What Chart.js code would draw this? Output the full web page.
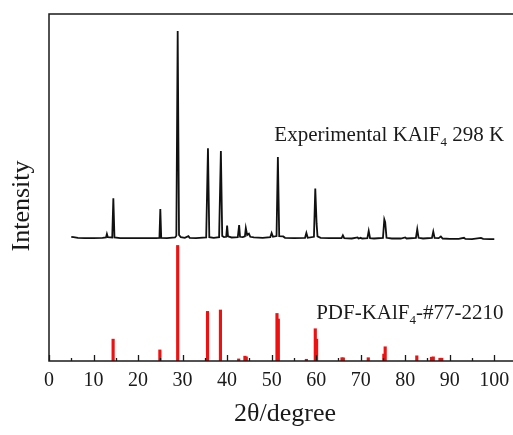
<!DOCTYPE html>
<html>
<head>
<meta charset="utf-8">
<script src="https://cdn.jsdelivr.net/npm/chart.js@4/dist/chart.umd.min.js"></script>
<style>
  html, body { margin: 0; padding: 0; background: #fff; overflow: hidden; }
  #wrap { width: 540px; height: 435px; }
</style>
</head>
<body>
<div id="wrap"><canvas id="xrd"></canvas></div>
<script>
// Experimental pattern (2theta, relative intensity above its baseline)
const expTheta = [5.0, 5.5, 6.5, 8.0, 10.0, 12.0, 12.8, 13.0, 13.2, 14.2, 14.45, 14.7, 16.0, 18.0, 20.0, 22.0, 24.0, 24.8, 25.0, 25.2,
  26.5, 28.3, 28.6, 28.9, 29.2, 29.6, 30.5, 31.3, 31.6, 33.0, 35.3, 35.7, 36.0, 37.0, 38.2, 38.6, 38.9, 39.3, 39.8, 40.0,
  40.2, 41.0, 42.4, 42.7, 42.9, 43.5, 44.0, 44.2, 44.5, 44.9, 45.2, 46.0, 48.0, 49.7, 50.0, 50.3, 51.1, 51.4, 51.7, 52.6,
  53.0, 55.0, 57.5, 57.8, 58.1, 59.5, 59.8, 60.1, 60.3, 61.0, 63.0, 65.7, 66.0, 66.3, 68.0, 69.3, 69.5, 70.0, 70.3, 71.5,
  71.8, 72.1, 73.0, 75.0, 75.3, 75.5, 75.8, 77.0, 79.0, 80.0, 80.3, 82.4, 82.7, 83.0, 84.0, 86.0, 86.3, 86.6, 87.5, 88.0,
  88.4, 90.0, 92.0, 93.2, 93.5, 95.0, 97.0, 97.5, 99.0, 100.0]
const expInt = [0.3, 0.2, 0.0, -0.1, -0.1, 0.0, 0.1, 1.1, 0.2, 0.1, 11.4, 0.1, -0.1, -0.1, -0.1, -0.1, -0.1, 0.0, 8.3, 0.0,
  -0.1, 0.1, 0.6, 59.6, 0.8, 0.2, 0.0, 0.5, 0.0, -0.1, 0.1, 25.8, 0.2, 0.0, 0.2, 25.0, 0.5, 0.2, 0.3, 3.5,
  0.4, 0.1, 0.2, 3.7, 0.3, 0.2, 0.4, 2.8, 0.8, 1.2, 0.3, 0.1, 0.0, 0.2, 1.4, 0.3, 0.5, 23.3, 0.5, 0.4,
  0.0, -0.1, 0.0, 1.4, 0.0, 0.3, 14.2, 4.0, 0.4, 0.0, -0.1, -0.1, 0.7, -0.1, -0.2, 0.1, -0.2, 0.0, -0.2, -0.1,
  2.0, -0.1, -0.2, 0.0, 5.3, 4.5, 0.0, -0.2, -0.2, 0.1, -0.2, 0.0, 2.5, 0.0, -0.2, 0.0, 1.8, 0.0, -0.1, 0.4,
  -0.2, -0.3, -0.3, 0.0, -0.3, -0.4, 0.0, -0.3, -0.4, -0.4]
const expOffset = 35.5

// Reference card PDF #77-2210 (stick pattern)
const refTheta = [14.4, 24.9, 28.9, 35.6, 38.5, 42.6, 44.0, 44.3, 51.2, 51.5, 57.8, 59.8, 60.1, 65.8, 66.1, 71.7, 75.2, 75.5,
  82.6, 85.9, 86.3, 87.8, 88.2]
const refInt = [6.3, 3.2, 33.3, 14.3, 14.7, 0.6, 1.4, 1.2, 13.7, 12.1, 0.5, 9.3, 6.3, 0.95, 0.9, 0.95, 2.0, 4.1,
  1.5, 1.1, 1.2, 0.8, 0.8]

// Axis ticks
const majorTicks = [0, 10, 20, 30, 40, 50, 60, 70, 80, 90, 100]
const minorTicks = [5, 15, 25, 35, 45, 55, 65, 75, 85, 95]

const expLabel = [{ t: 'Experimental KAlF' }, { t: '4', sub: true }, { t: ' 298 K' }]
const refLabel = [{ t: 'PDF-KAlF' }, { t: '4', sub: true }, { t: '-#77-2210' }]

const serif = '"Liberation Serif", "Times New Roman", serif'
const ink = '#1a1a1a'

// write text with a subscript, left aligned at (x, y)
function drawRich (ctx, x, y, parts) {
  let cx = x
  parts.forEach(p => {
    ctx.font = p.sub ? `13px ${serif}` : `21px ${serif}`
    ctx.fillText(p.t, cx, p.sub ? y + 7 : y)
    cx += ctx.measureText(p.t).width
  })
}

// frame, inward ticks, labels in the plot
const decorPlugin = {
  id: 'decor',
  afterDatasetsDraw (chart) {
    const { ctx, chartArea: a, scales: { x, y } } = chart
    ctx.save()
    ctx.strokeStyle = ink
    ctx.lineWidth = 1.5
    ctx.strokeRect(a.left, a.top, a.right - a.left, a.bottom - a.top)

    ctx.lineWidth = 1.3
    majorTicks.forEach(v => {
      const px = Math.round(x.getPixelForValue(v)) + 0.5
      ctx.beginPath(); ctx.moveTo(px, a.bottom); ctx.lineTo(px, a.bottom - 6); ctx.stroke()
    })
    minorTicks.forEach(v => {
      const px = Math.round(x.getPixelForValue(v)) + 0.5
      ctx.beginPath(); ctx.moveTo(px, a.bottom); ctx.lineTo(px, a.bottom - 3); ctx.stroke()
    })

    ctx.fillStyle = ink
    ctx.textBaseline = 'middle'
    ctx.textAlign = 'left'
    drawRich(ctx, x.getPixelForValue(50.6), y.getPixelForValue(65.1), expLabel)
    drawRich(ctx, x.getPixelForValue(60.0), y.getPixelForValue(13.8), refLabel)

    // y axis title
    ctx.translate(22.5, 206)
    ctx.rotate(-Math.PI / 2)
    ctx.textAlign = 'center'
    ctx.font = `26px ${serif}`
    ctx.fillText('Intensity', 0, 0)
    ctx.restore()
  }
}

const ctx = document.getElementById('xrd')

new Chart(ctx, {
  type: 'line',
  data: {
    datasets: [
      {
        label: 'Experimental',
        data: expTheta.map((t, i) => ({ x: t, y: expInt[i] + expOffset })),
        borderColor: '#111',
        borderWidth: 1.8,
        pointRadius: 0,
        tension: 0,
        fill: false
      },
      {
        type: 'bar',
        label: 'PDF #77-2210',
        data: refTheta.map((t, i) => ({ x: t, y: refInt[i] })),
        backgroundColor: '#ee1111',
        barThickness: 2.5,
        grouped: false
      }
    ]
  },
  options: {
    responsive: true,
    maintainAspectRatio: false,
    animation: false,
    layout: { padding: { left: 49, top: 14, right: 19, bottom: 0 } },
    plugins: { legend: { display: false }, tooltip: { enabled: false } },
    scales: {
      x: {
        type: 'linear',
        min: 0,
        max: 106,
        offset: false,
        grid: { display: false, drawTicks: false },
        border: { display: false },
        afterBuildTicks: s => { s.ticks = majorTicks.map(v => ({ value: v })) },
        afterFit: s => { s.height = 74 },
        ticks: {
          autoSkip: false,
          maxRotation: 0,
          padding: 8,
          color: ink,
          font: { family: serif, size: 20 }
        },
        title: {
          display: true,
          text: '2θ/degree',
          color: ink,
          font: { family: serif, size: 26 },
          padding: { top: 0, bottom: 5 }
        }
      },
      y: {
        display: false,
        min: 0,
        max: 100
      }
    }
  },
  plugins: [decorPlugin]
})
</script>
</body>
</html>
